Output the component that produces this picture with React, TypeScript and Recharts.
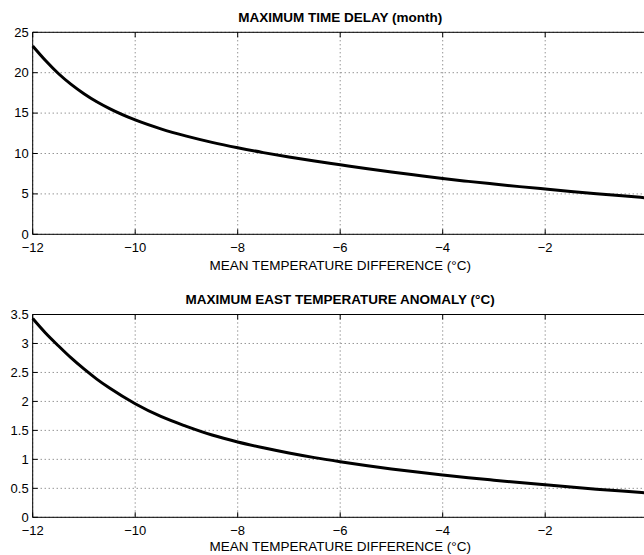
import React from 'react';
import { LineChart, Line, XAxis, YAxis, CartesianGrid, Label } from 'recharts';

const xValues = [-12, -11.75, -11.5, -11.25, -11, -10.75, -10.5, -10, -9.5, -9, -8.5, -8, -7.5, -7, -6.5, -6, -5.5, -5, -4.5, -4, -3.5, -3, -2.5, -2, -1.5, -1, -0.5, 0];
const delayValues = [23.3, 21.5, 19.9, 18.55, 17.4, 16.4, 15.55, 14.15, 13.05, 12.15, 11.38, 10.71, 10.11, 9.56, 9.06, 8.6, 8.14, 7.71, 7.3, 6.9, 6.55, 6.22, 5.9, 5.6, 5.31, 5.03, 4.76, 4.5];
const anomalyValues = [3.43, 3.18, 2.96, 2.75, 2.56, 2.385, 2.23, 1.96, 1.74, 1.57, 1.42, 1.3, 1.2, 1.11, 1.03, 0.96, 0.895, 0.835, 0.78, 0.73, 0.683, 0.64, 0.599, 0.56, 0.522, 0.486, 0.452, 0.42];

const xTicks = [-12, -10, -8, -6, -4, -2];
const delayTicks = [0, 5, 10, 15, 20, 25];
const anomalyTicks = [0, 0.5, 1, 1.5, 2, 2.5, 3, 3.5];

const topTitle = 'MAXIMUM TIME DELAY (month)';
const bottomTitle = 'MAXIMUM EAST TEMPERATURE ANOMALY (\u00B0C)';
const xLabel = 'MEAN TEMPERATURE DIFFERENCE (\u00B0C)';

const FONT = '"Liberation Sans", Arial, Helvetica, sans-serif';

const delayData = xValues.map((x, i) => ({ x, y: delayValues[i] }));
const anomalyData = xValues.map((x, i) => ({ x, y: anomalyValues[i] }));

const fmtX = (v: number) => (v < 0 ? '\u2212' + Math.abs(v) : String(v));

const LeftTick = (props: any) => {
  const { x, y, payload } = props;
  return (
    <g>
      <line x1={x} x2={x + 5} y1={y} y2={y} stroke="#000" strokeWidth={1} />
      <text x={x - 4} y={y} dy={4.3} textAnchor="end" fontSize={13} fontFamily={FONT} fill="#000">
        {String(payload.value)}
      </text>
    </g>
  );
};

const RightTick = (props: any) => {
  const { x, y } = props;
  return <line x1={x} x2={x - 5} y1={y} y2={y} stroke="#000" strokeWidth={1} />;
};

const BottomTick = (props: any) => {
  const { x, y, payload } = props;
  return (
    <g>
      <line x1={x} x2={x} y1={y} y2={y - 5} stroke="#000" strokeWidth={1} />
      <text x={x} y={y + 18} textAnchor="middle" fontSize={13} fontFamily={FONT} fill="#000">
        {fmtX(payload.value)}
      </text>
    </g>
  );
};

const TopTick = (props: any) => {
  const { x, y } = props;
  return <line x1={x} x2={x} y1={y} y2={y + 5} stroke="#000" strokeWidth={1} />;
};

type PanelProps = {
  data: { x: number; y: number }[];
  yTicks: number[];
  yMax: number;
  title: string;
  height: number;
  margin: { top: number; right: number; bottom: number; left: number };
  labelOffset: number;
  titleOffset: number;
};

const Panel = ({ data, yTicks, yMax, title, height, margin, labelOffset, titleOffset }: PanelProps) => (
  <LineChart width={652} height={height} data={data} margin={margin}>
    <CartesianGrid strokeDasharray="1 3" stroke="#666" strokeWidth={1} />
    <XAxis
      dataKey="x"
      type="number"
      domain={[-12, 0]}
      ticks={xTicks}
      height={1}
      tickSize={0}
      tickMargin={0}
      tick={<BottomTick />}
      tickLine={false}
      axisLine={{ stroke: '#000', strokeWidth: 1 }}
      interval={0}
    >
      <Label
        value={xLabel}
        position="bottom"
        offset={labelOffset}
        fill="#000"
        fontSize={13.5}
        fontFamily={FONT}
      />
    </XAxis>
    <XAxis
      xAxisId="top"
      dataKey="x"
      type="number"
      orientation="top"
      domain={[-12, 0]}
      ticks={xTicks}
      height={1}
      tickSize={0}
      tickMargin={0}
      tick={<TopTick />}
      tickLine={false}
      axisLine={{ stroke: '#000', strokeWidth: 1 }}
      interval={0}
    >
      <Label
        value={title}
        position="top"
        offset={titleOffset}
        fill="#000"
        fontSize={13.5}
        fontWeight="bold"
        fontFamily={FONT}
      />
    </XAxis>
    <YAxis
      type="number"
      domain={[0, yMax]}
      ticks={yTicks}
      width={1}
      tickSize={0}
      tickMargin={0}
      tick={<LeftTick />}
      tickLine={false}
      axisLine={{ stroke: '#000', strokeWidth: 1 }}
      interval={0}
    />
    <YAxis
      yAxisId="right"
      orientation="right"
      type="number"
      domain={[0, yMax]}
      ticks={yTicks}
      width={1}
      tickSize={0}
      tickMargin={0}
      tick={<RightTick />}
      tickLine={false}
      axisLine={{ stroke: '#000', strokeWidth: 1 }}
      interval={0}
    />
    <Line
      dataKey="y"
      type="monotone"
      stroke="#000"
      strokeWidth={3}
      dot={false}
      activeDot={false}
      isAnimationActive={false}
    />
  </LineChart>
);

export default function App() {
  return (
    <div
      style={{
        position: 'absolute',
        left: 0,
        top: 0,
        width: 644,
        height: 555,
        overflow: 'hidden',
        background: '#fff',
        fontFamily: FONT,
      }}
    >
      <Panel
        data={delayData}
        yTicks={delayTicks}
        yMax={25}
        title={topTitle}
        height={280}
        margin={{ top: 31.3, right: 3.3, bottom: 44.7, left: 31.7 }}
        labelOffset={25}
        titleOffset={9}
      />
      <Panel
        data={anomalyData}
        yTicks={anomalyTicks}
        yMax={3.5}
        title={bottomTitle}
        height={275}
        margin={{ top: 33.5, right: 3.3, bottom: 36.7, left: 31.7 }}
        labelOffset={23}
        titleOffset={9.5}
      />
    </div>
  );
}
